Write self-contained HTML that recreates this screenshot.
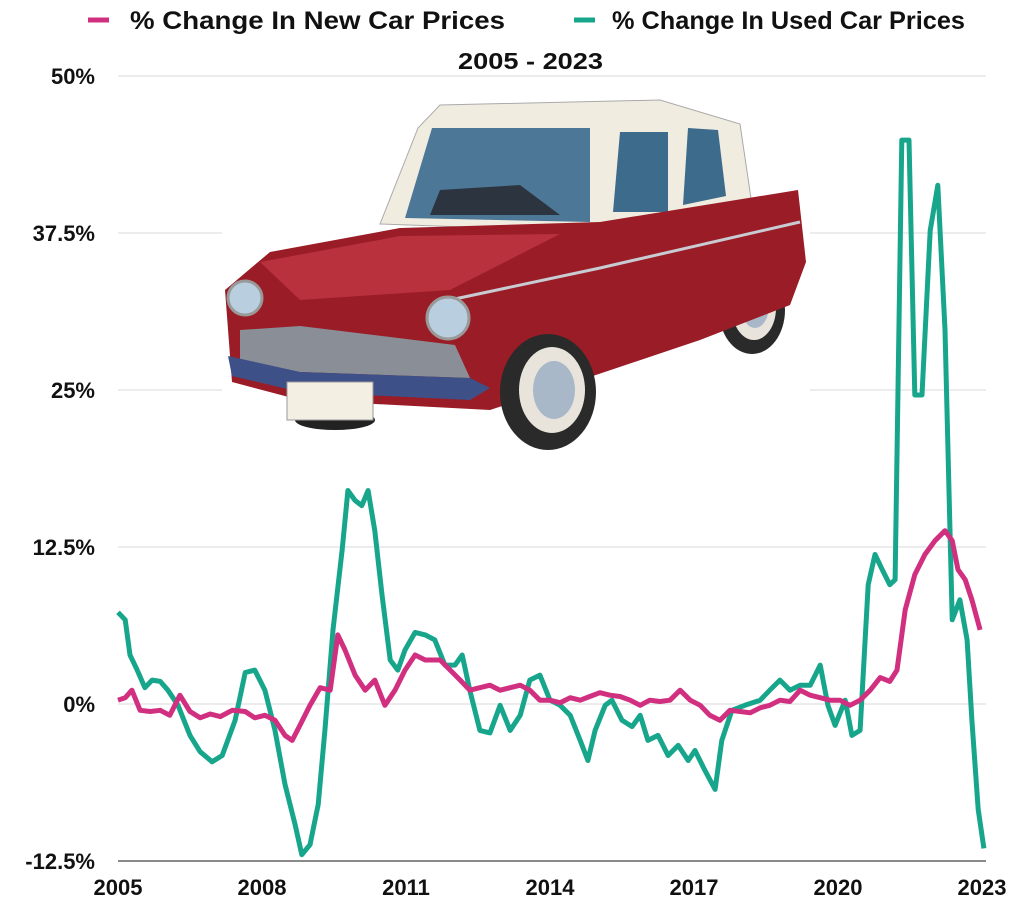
<!DOCTYPE html>
<html><head><meta charset="utf-8"><style>
body{margin:0;background:#fff;}
svg text{font-family:"Liberation Sans",sans-serif;font-weight:bold;fill:#111;}
</style></head><body>
<svg id="chart" width="1024" height="912" viewBox="0 0 1024 912">
<g id="grid"></g>
<g id="yaxis"></g>
<g id="xaxis"></g>
<g>
 <g>
  <line x1="88" y1="20" x2="109" y2="20" stroke="#d0307f" stroke-width="5"/>
  <text x="130" y="29" font-size="25" textLength="375" lengthAdjust="spacingAndGlyphs">% Change In New Car Prices</text>
 </g>
 <g>
  <line x1="574" y1="20" x2="595" y2="20" stroke="#17a68c" stroke-width="5"/>
  <text x="612" y="29" font-size="25" textLength="353" lengthAdjust="spacingAndGlyphs">% Change In Used Car Prices</text>
 </g>
</g>
<text x="458" y="69" font-size="23" textLength="145" lengthAdjust="spacingAndGlyphs">2005 - 2023</text>
<g>
 <rect x="222" y="96" width="588" height="360" fill="#fff"/>
 <ellipse cx="335" cy="420" rx="40" ry="10" fill="#222"/>
 <ellipse cx="752" cy="310" rx="33" ry="44" fill="#2a2a2a"/>
 <ellipse cx="754" cy="308" rx="22" ry="32" fill="#e8e4dc"/>
 <ellipse cx="755" cy="306" rx="14" ry="22" fill="#a8b8c8"/>
 <polygon points="380,224 418,128 440,105 660,100 740,124 752,205 606,232" fill="#f1ece0" stroke="#aaa" stroke-width="1"/>
 <polygon points="405,218 432,128 590,128 590,222" fill="#4d7796"/>
 <polygon points="430,215 440,190 520,185 560,215" fill="#2c3440"/>
 <polygon points="613,212 620,132 668,132 668,212" fill="#3d6b8c"/>
 <polygon points="683,205 688,128 718,130 726,196" fill="#3d6b8c"/>
 <polygon points="225,290 270,252 400,228 600,222 798,190 806,262 790,305 700,340 575,382 490,410 300,400 232,382" fill="#9a1c26"/>
 <polygon points="260,262 400,236 560,234 450,290 300,300" fill="#b8313d"/>
 <polyline points="450,300 600,268 800,222" fill="none" stroke="#c8ccd2" stroke-width="3"/>
 <polygon points="240,330 300,326 455,345 470,378 300,372 240,360" fill="#8a8e96"/>
 <polygon points="228,356 300,372 470,378 490,388 470,400 300,392 232,376" fill="#3e5088"/>
 <rect x="287" y="382" width="86" height="38" fill="#f4efe3" stroke="#999"/>
 <circle cx="245" cy="298" r="17" fill="#b9cfe0" stroke="#999" stroke-width="3"/>
 <circle cx="448" cy="318" r="21" fill="#b9cfe0" stroke="#999" stroke-width="3"/>
 <ellipse cx="548" cy="392" rx="48" ry="58" fill="#2a2a2a"/>
 <ellipse cx="552" cy="390" rx="33" ry="43" fill="#e8e4dc"/>
 <ellipse cx="554" cy="390" rx="21" ry="29" fill="#a8b8c8"/>
</g>
<g id="series"></g>
</svg>
<script>
const yTicks=[50,37.5,25,12.5,0,-12.5];
const yTickLabels=["50%","37.5%","25%","12.5%","0%","-12.5%"];
const xTicks=[2005,2008,2011,2014,2017,2020,2023];
const usedYears=[2005.00,2005.15,2005.25,2005.40,2005.56,2005.71,2005.88,2006.04,2006.25,2006.50,2006.71,2006.96,2007.17,2007.44,2007.65,2007.85,2008.06,2008.27,2008.48,2008.69,2008.83,2009.00,2009.17,2009.31,2009.48,2009.67,2009.79,2009.94,2010.08,2010.21,2010.35,2010.50,2010.67,2010.83,2010.98,2011.19,2011.40,2011.60,2011.81,2012.02,2012.17,2012.33,2012.54,2012.75,2012.96,2013.17,2013.38,2013.58,2013.79,2014.00,2014.21,2014.42,2014.63,2014.79,2014.94,2015.15,2015.29,2015.50,2015.71,2015.88,2016.04,2016.25,2016.46,2016.67,2016.88,2017.02,2017.23,2017.44,2017.58,2017.79,2018.06,2018.38,2018.58,2018.79,2019.00,2019.21,2019.42,2019.63,2019.79,2019.94,2020.15,2020.29,2020.46,2020.63,2020.77,2020.92,2021.08,2021.19,2021.33,2021.48,2021.60,2021.75,2021.92,2022.08,2022.23,2022.38,2022.54,2022.69,2022.79,2022.92,2023.04];
const usedValues=[7.3,6.7,3.9,2.7,1.3,1.9,1.8,1.1,-0.1,-2.5,-3.8,-4.6,-4.1,-1.3,2.5,2.7,1.1,-2.1,-6.4,-9.6,-12.0,-11.2,-8.0,-2.1,5.9,12.3,17.0,16.2,15.8,17.0,13.8,8.7,3.5,2.7,4.3,5.7,5.5,5.1,3.1,3.1,3.9,1.1,-2.1,-2.3,-0.1,-2.1,-0.9,1.9,2.3,0.3,-0.1,-0.9,-2.9,-4.5,-2.1,-0.1,0.3,-1.3,-1.8,-0.9,-2.9,-2.5,-4.1,-3.3,-4.5,-3.7,-5.3,-6.8,-2.9,-0.5,-0.1,0.3,1.1,1.9,1.1,1.5,1.5,3.1,-0.1,-1.7,0.3,-2.5,-2.1,9.5,11.9,10.7,9.5,9.9,44.9,44.9,24.6,24.6,37.7,41.3,29.8,6.7,8.3,5.1,-1.3,-8.4,-11.5];
const newYears=[2005.00,2005.15,2005.29,2005.46,2005.67,2005.88,2006.08,2006.29,2006.50,2006.71,2006.92,2007.13,2007.38,2007.65,2007.85,2008.06,2008.27,2008.48,2008.63,2008.79,2009.00,2009.21,2009.42,2009.58,2009.73,2009.94,2010.15,2010.35,2010.56,2010.77,2010.98,2011.19,2011.40,2011.71,2011.92,2012.13,2012.33,2012.54,2012.75,2012.96,2013.17,2013.38,2013.58,2013.79,2014.00,2014.21,2014.42,2014.63,2014.83,2015.04,2015.25,2015.46,2015.67,2015.88,2016.08,2016.29,2016.50,2016.71,2016.92,2017.13,2017.33,2017.54,2017.75,2017.96,2018.17,2018.38,2018.58,2018.79,2019.00,2019.21,2019.42,2019.63,2019.83,2020.04,2020.25,2020.46,2020.67,2020.88,2021.08,2021.23,2021.40,2021.60,2021.81,2022.02,2022.23,2022.38,2022.50,2022.65,2022.79,2022.96];
const newValues=[0.3,0.5,1.1,-0.5,-0.6,-0.5,-0.9,0.7,-0.6,-1.1,-0.8,-1.0,-0.5,-0.6,-1.1,-0.9,-1.3,-2.5,-2.9,-1.7,-0.1,1.3,1.1,5.5,4.3,2.3,1.1,1.9,-0.1,1.1,2.7,3.9,3.5,3.5,2.7,1.9,1.1,1.3,1.5,1.1,1.3,1.5,1.1,0.3,0.3,0.1,0.5,0.3,0.6,0.9,0.7,0.6,0.3,-0.1,0.3,0.2,0.3,1.1,0.3,-0.1,-0.9,-1.3,-0.5,-0.6,-0.7,-0.3,-0.1,0.3,0.2,1.1,0.7,0.5,0.3,0.3,-0.1,0.3,1.1,2.1,1.8,2.7,7.5,10.3,11.9,13.0,13.8,13.0,10.7,9.9,8.3,5.9];

const NS="http://www.w3.org/2000/svg";
const X0=118,X1=982,Y0=704,PPU=157/12.5;
function xs(y){return X0+(y-2005)*(X1-X0)/18;}
function ys(v){return Y0-v*PPU;}
const grid=document.getElementById('grid'),ya=document.getElementById('yaxis'),xa=document.getElementById('xaxis'),ser=document.getElementById('series');
yTicks.forEach((t,i)=>{
 const l=document.createElementNS(NS,'line');
 l.setAttribute('x1',118);l.setAttribute('x2',986);l.setAttribute('y1',ys(t));l.setAttribute('y2',ys(t));
 l.setAttribute('stroke',t===-12.5?'#444':'#d8d8d8');l.setAttribute('stroke-width',t===-12.5?1.2:1);
 
 
 grid.appendChild(l);
 const tx=document.createElementNS(NS,'text');
 tx.setAttribute('x',95);tx.setAttribute('y',ys(t)+8);tx.setAttribute('text-anchor','end');tx.setAttribute('font-size','22');
 tx.textContent=yTickLabels[i];
 
 
 ya.appendChild(tx);
});
xTicks.forEach(t=>{
 const tx=document.createElementNS(NS,'text');
 tx.setAttribute('x',xs(t));tx.setAttribute('y',895);tx.setAttribute('text-anchor','middle');tx.setAttribute('font-size','22');
 tx.textContent=t;
 
 
 xa.appendChild(tx);
});
function line(years,vals,color,name){
 const p=document.createElementNS(NS,'polyline');
 p.setAttribute('points',years.map((y,i)=>xs(y).toFixed(1)+','+ys(vals[i]).toFixed(1)).join(' '));
 p.setAttribute('fill','none');p.setAttribute('stroke',color);p.setAttribute('stroke-width','5');p.setAttribute('stroke-linejoin','round');
 
 
 ser.appendChild(p);
}
line(usedYears,usedValues,'#17a68c','used-car-price-line');
line(newYears,newValues,'#d0307f','new-car-price-line');
</script>
</body></html>
